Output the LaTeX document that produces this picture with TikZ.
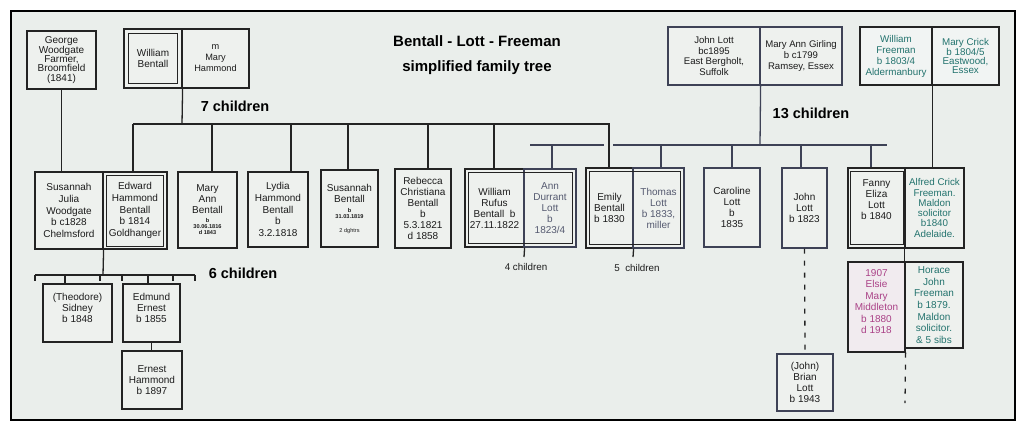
\documentclass[tikz,border=0pt]{standalone}
\usepackage{fontspec}
\setmainfont{Liberation Sans}
\definecolor{bgc}{RGB}{234,238,235}
\definecolor{boxfill}{RGB}{238,241,238}
\definecolor{frfill}{RGB}{241,244,243}
\definecolor{elfill}{RGB}{241,235,239}
\definecolor{linec}{RGB}{35,35,35}
\definecolor{lottline}{RGB}{62,66,86}
\definecolor{txtc}{RGB}{28,28,28}
\definecolor{lottc}{RGB}{85,90,112}
\definecolor{freec}{RGB}{35,115,110}
\definecolor{magc}{RGB}{170,65,135}
\newcommand\tinyfnt{\fontsize{5.6}{6}\selectfont}
\begin{document}
\begin{tikzpicture}[x=1pt,y=-1pt,
  box/.style={draw=linec,line width=1.2pt,fill=boxfill,inner sep=0pt,align=center,text=txtc,font=\fontsize{10}{11}\selectfont},
  wh/.style 2 args={minimum width=#1pt,minimum height=#2pt},
  conn/.style={draw=linec,line width=1.3pt},
  lconn/.style={draw=lottline,line width=1.3pt},
  dconn/.style={draw=linec,line width=1.3pt,dash pattern=on 5pt off 7pt},
  big/.style={font=\fontsize{14.5}{16}\selectfont\bfseries,text=black},
  lab/.style={font=\fontsize{9.8}{11}\selectfont,text=txtc},
  innerbox/.style={draw=linec,line width=1.2pt}]
\useasboundingbox (0,0) rectangle (1030,432);
\fill[white] (0,0) rectangle (1030,432);
\draw[line width=2.4pt,fill=bgc] (11,11) rectangle (1015,420);

% title
\node[font=\fontsize{15}{25}\selectfont\bfseries,align=center] (title) at (477,55) {Bentall - Lott - Freeman\\simplified family tree};

% Bentall generation
\node[box,wh={69}{58},font=\fontsize{10}{9.4}\selectfont] (george) at (61.5,60) {George\\Woodgate\\Farmer,\\Broomfield\\(1841)};
\node[box,wh={58}{59}] (wb) at (153,58.5) {William\\Bentall};
\node[box,wh={67}{59},font=\fontsize{9.2}{11}\selectfont] (mh) at (215.5,58.5) {m\\Mary\\Hammond};
\draw[innerbox] ([shift={(5pt,-5pt)}]wb.north west) rectangle ([shift={(-5pt,5pt)}]wb.south east);
\node[big] (seven) at (235,106) {7 children};

% children of William Bentall
\node[box,wh={68}{77},font=\fontsize{10}{11.7}\selectfont] (sj) at (69,210.5) {Susannah\\Julia\\Woodgate\\b c1828\\Chelmsford};
\node[box,wh={64}{77},font=\fontsize{10}{11.7}\selectfont] (edward) at (135,210.5) {Edward\\Hammond\\Bentall\\b 1814\\Goldhanger};
\draw[innerbox] ([shift={(4pt,-4pt)}]edward.north west) rectangle ([shift={(-4pt,3pt)}]edward.south east);
\node[box,wh={59}{76}] (maryann) at (207.5,210) {Mary\\Ann\\Bentall\\[-2pt]{\tinyfnt\bfseries b}\\[-5pt]{\tinyfnt\bfseries 30.06.1816}\\[-5pt]{\tinyfnt\bfseries d 1843}};
\node[box,wh={60}{75},font=\fontsize{10}{11.7}\selectfont] (lydia) at (278,209.5) {Lydia\\Hammond\\Bentall\\b\\3.2.1818};
\node[box,wh={57}{77}] (susb) at (349.5,208.5) {Susannah\\Bentall\\[-1pt]{\tinyfnt\bfseries b}\\[-5pt]{\tinyfnt\bfseries 31.03.1819}\\[3pt]{\tinyfnt 2 dghtrs}};
\node[box,wh={56}{79}] (rebecca) at (423,208.5) {Rebecca\\Christiana\\Bentall\\b\\5.3.1821\\d 1858};
\node[box,wh={59}{78}] (wrufus) at (494.5,208) {William\\Rufus\\Bentall\ \ b\\27.11.1822};
\node[box,wh={52}{78},text=lottc,draw=lottline] (ann) at (550,208) {Ann\\Durrant\\Lott\\b\\1823/4};
\draw[innerbox] ([shift={(4pt,-4pt)}]wrufus.north west) rectangle ([shift={(-4pt,4pt)}]ann.south east);
\node[box,wh={47}{80}] (emily) at (609.5,208) {Emily\\Bentall\\b 1830};
\node[box,wh={51}{80},text=lottc,draw=lottline] (thomas) at (658.5,208) {Thomas\\Lott\\b 1833,\\miller};
\draw[innerbox] ([shift={(4pt,-4pt)}]emily.north west) rectangle ([shift={(-4pt,4pt)}]thomas.south east);
\coordinate (wr4) at (524,257);
\coordinate (em5) at (633,257);
\node[lab] (four) at (526,267) {4 children};
\node[lab] (five) at (637,268) {5\ \ children};

% Edward's children
\node[big] (six) at (243,273) {6 children};
\node[box,wh={69}{58}] (theo) at (77.5,313) {(Theodore)\\Sidney\\b 1848\\\mbox{}};
\node[box,wh={57}{58}] (edmund) at (151.5,313) {Edmund\\Ernest\\b 1855\\\mbox{}};
\node[box,wh={60}{58}] (ernest) at (152,380) {Ernest\\Hammond\\b 1897};

% Lott parents
\node[box,wh={92}{58},draw=lottline,font=\fontsize{9.6}{10.6}\selectfont] (jl) at (714,56) {John Lott\\bc1895\\East Bergholt,\\Suffolk};
\node[box,wh={82}{58},draw=lottline,font=\fontsize{9.6}{10.6}\selectfont] (mag) at (801,56) {Mary Ann Girling\\b c1799\\Ramsey, Essex};
\node[big] (thirteen) at (811,113) {13 children};
\node[box,wh={56}{79},draw=lottline] (caroline) at (732,207.5) {Caroline\\Lott\\b\\1835};
\node[box,wh={45}{80},draw=lottline] (johnl) at (804.5,208) {John\\Lott\\b 1823};
\node[box,wh={56}{57},draw=lottline] (brian) at (805,382.5) {(John)\\Brian\\Lott\\b 1943};
\node[box,wh={57}{80}] (fanny) at (876.5,208) {Fanny\\Eliza\\Lott\\b 1840\\[5pt]\mbox{}};
\node[box,wh={59}{80},text=freec,font=\fontsize{9.8}{10.3}\selectfont] (alfred) at (934.5,208) {Alfred Crick\\Freeman.\\Maldon\\solicitor\\b1840\\Adelaide.};
\draw[innerbox] ([shift={(3pt,-4pt)}]fanny.north west) rectangle ([shift={(-2pt,4pt)}]fanny.south east);

% Freeman parents
\node[box,wh={72}{58},fill=frfill,text=freec,font=\fontsize{9.8}{11}\selectfont] (wf) at (896,56) {William\\Freeman\\b 1803/4\\Aldermanbury};
\node[box,wh={67}{58},fill=frfill,text=freec,font=\fontsize{9.8}{9}\selectfont] (mc) at (965.5,56) {Mary Crick\\b 1804/5\\Eastwood,\\Essex};

% next generation
\node[box,wh={57}{90},fill=elfill,text=magc,font=\fontsize{10}{11.5}\selectfont] (elsie) at (876.5,307) {1907\\Elsie\\Mary\\Middleton\\b 1880\\d 1918\\\mbox{}};
\node[box,wh={58}{86},text=freec,font=\fontsize{10}{11.7}\selectfont] (horace) at (934,305) {Horace\\John\\Freeman\\b 1879.\\Maldon\\solicitor.\\\& 5 sibs};
\coordinate (hend) at (905,403);

% ---- connectors ----
\draw[conn] (george.south) -- (george.south |- sj.north);
\coordinate (p7) at (182,124);
\draw[conn] (wb.south east) -- (p7);
\draw[conn] (133,124) -- (610,124);
\foreach \xx/\nn in {133/edward,212/maryann,291/lydia,348/susb,428/rebecca,494/wrufus,609/emily}{
  \coordinate (t) at (\xx,124);
  \draw[conn] (t) -- (t |- \nn.north);
}
\draw[conn] (wrufus.south east) -- (wr4);
\draw[conn] (emily.south east) -- (em5);

% 6 children
\coordinate (p6) at (103,275);
\draw[conn] (sj.south east) -- (p6);
\draw[conn,line width=1.8pt] (35,275) -- (195,275);
\foreach \xx in {35,100,122,173,195}{
  \coordinate (t) at (\xx,275);
  \draw[conn,line width=1.5pt] (t) -- ++(0,6);
}
\foreach \xx/\nn in {65/theo,148/edmund}{
  \coordinate (t) at (\xx,275);
  \draw[conn] (t) -- (t |- \nn.north);
}
\draw[conn] (edmund.south) -- (edmund.south |- ernest.north);

% 13 children
\coordinate (p13) at (760,145);
\draw[lconn] (jl.south east) -- (p13);
\draw[lconn] (530,145) -- (604,145);
\draw[lconn] (613,145) -- (887,145);
\foreach \xx/\nn in {552/ann,661/thomas,732/caroline,801/johnl,871/fanny}{
  \coordinate (t) at (\xx,145);
  \draw[lconn] (t) -- (t |- \nn.north);
}
\draw[dconn] (johnl.south) -- (brian.north);

% Freeman
\draw[conn] (wf.south east) -- (wf.south east |- alfred.north);
\draw[conn] (alfred.south west) -- (alfred.south west |- elsie.north);
\draw[dconn] (elsie.south east) -- (hend);
\end{tikzpicture}
\end{document}
